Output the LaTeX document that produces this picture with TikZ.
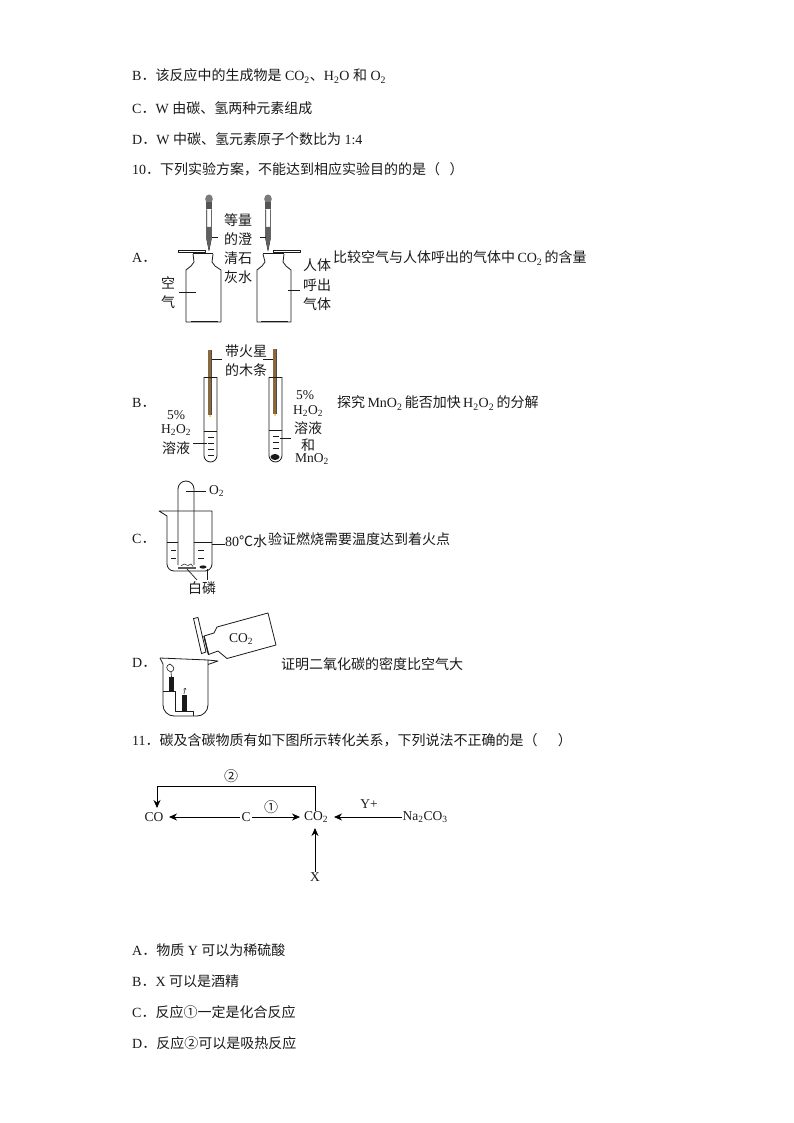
\documentclass[tikz,border=0pt]{standalone}
\usepackage{fontspec}
\setmainfont{Liberation Serif}
\newfontfamily\cjk{Noto Sans CJK SC}
\newcommand{\cj}[1]{{\cjk #1}}
\newcommand{\sbs}[1]{\textsubscript{#1}}
\definecolor{ink}{HTML}{1A1A1A}
\definecolor{splint}{HTML}{8A6A3C}
\definecolor{rubber}{HTML}{7A7A7A}
\usetikzlibrary{arrows.meta}
\tikzset{
 linetxt/.style={anchor=west,inner sep=0pt,font=\fontsize{14}{14}\selectfont,text=ink},
 lab/.style={anchor=center,inner sep=0pt,font=\fontsize{14}{14}\selectfont,text=ink},
 chem/.style={anchor=center,inner sep=0pt,font=\fontsize{13.5}{13.5}\selectfont,text=ink},
 glass/.style={draw=ink,line width=0.8pt,line join=round},
 tick/.style={draw=ink,line width=0.7pt},
 conn/.style={draw=black,line width=0.8pt},
 arr/.style={conn,-{Stealth[length=8pt,width=7pt]}},
}
\newcommand{\dropper}[1]{%
 \begin{scope}[shift={(#1,0)}]
  \fill[rubber] (0,199) ellipse (3.8 and 4.5);
  \fill[rubber!70!black] (-2.6,202) rectangle (2.6,209.5);
  \draw[glass,line width=0.6pt] (-2.3,209.5) -- (-2.3,239) -- (0,250.5) -- (2.3,239) -- (2.3,209.5);
  \fill[gray!75!black] (-2.3,227) -- (-2.3,239) -- (0,250.5) -- (2.3,239) -- (2.3,227) -- cycle;
 \end{scope}}
\newcommand{\splintat}[3]{\fill[splint] (#1-2,#2) rectangle (#1+2,#3);
 \draw[black!70,line width=0.5pt] (#1+1.3,#2) -- (#1+1.3,#3);}
\begin{document}
\begin{tikzpicture}[x=1pt,y=-1pt]
\useasboundingbox[fill=white] (0,0) rectangle (794,1123);
% text lines
\node[linetxt] (t1) at (132,76) {B\cj{．该反应中的生成物是} CO\sbs{2}\cj{、}H\sbs{2}O \cj{和} O\sbs{2}};
\node[linetxt] (t2) at (132,108) {C\cj{．}W \cj{由碳、氢两种元素组成}};
\node[linetxt] (t3) at (132,139) {D\cj{．}W \cj{中碳、氢元素原子个数比为} 1:4};
\node[linetxt] (t4) at (132,169) {10\cj{．下列实验方案，不能达到相应实验目的的是（\ \ \ ）}};
\node[linetxt] (oA) at (132,258) {A\cj{．}};
\node[linetxt] (oB) at (132,403) {B\cj{．}};
\node[linetxt] (oC) at (132,539) {C\cj{．}};
\node[linetxt] (oD) at (132,663) {D\cj{．}};
\node[linetxt] (dA) at (333,258) {\cj{比较空气与人体呼出的气体中}\,CO\sbs{2}\,\cj{的含量}};
\node[linetxt] (dB) at (337,403) {\cj{探究}\,MnO\sbs{2}\,\cj{能否加快}\,H\sbs{2}O\sbs{2}\,\cj{的分解}};
\node[linetxt] (dC) at (268,539) {\cj{验证燃烧需要温度达到着火点}};
\node[linetxt] (dD) at (281,664) {\cj{证明二氧化碳的密度比空气大}};
\node[linetxt] (t11) at (132,740) {11\cj{．碳及含碳物质有如下图所示转化关系，下列说法不正确的是（\quad\ \ ）}};
\node[linetxt] (a1) at (132,950) {A\cj{．物质} Y \cj{可以为稀硫酸}};
\node[linetxt] (a2) at (132,981) {B\cj{．}X \cj{可以是酒精}};
\node[linetxt] (a3) at (132,1012) {C\cj{．反应①一定是化合反应}};
\node[linetxt] (a4) at (132,1043) {D\cj{．反应②可以是吸热反应}};
% === A ===
\dropper{209}\dropper{268}
\fill[ink] (193,252.5) rectangle (213,254);
\fill[ink] (263,252.5) rectangle (284,254);
\draw[glass] (193,254) -- (194,262) -- (191,266) -- (186,270) -- (186,322) -- (221,322) -- (221,270) -- (215,266) -- (212,262) -- (213,254);
\draw[glass] (263,254) -- (265,262) -- (262,266) -- (257,270) -- (257,322) -- (291,322) -- (291,270) -- (286,266) -- (283,262) -- (284,254);
\fill[ink] (191,320.5) rectangle (218,322);
\fill[ink] (261,320.5) rectangle (288,322);
\draw[glass,fill=white] (178,250.5) rectangle (205,252.5);
\draw[glass,fill=white] (273,250.5) rectangle (300,252.5);
\draw[tick] (212,237) -- (218,237);
\draw[tick] (260,237) -- (266,237);
\draw[tick] (179,292) -- (196,292);
\draw[tick] (288,290) -- (300,290);
\node[lab] (a11) at (238,220) {\cj{等量}};
\node[lab] (a12) at (238,239) {\cj{的澄}};
\node[lab] (a13) at (238,258) {\cj{清石}};
\node[lab] (a14) at (238,277) {\cj{灰水}};
\node[lab] (a21) at (168,283) {\cj{空}};
\node[lab] (a22) at (168,302) {\cj{气}};
\node[lab] (a31) at (317,265) {\cj{人体}};
\node[lab] (a32) at (317,285) {\cj{呼出}};
\node[lab] (a33) at (317,304) {\cj{气体}};
% === B ===
\splintat{210}{350}{415}
\splintat{275}{349}{414}
\fill[orange!60!yellow] (210,416) circle (1);
\fill[orange!60!yellow] (275,415) circle (1);
\draw[glass] (204,377) -- (217,377);
\draw[glass] (204,377) -- (204,455.5) arc[start angle=180,end angle=0,radius=6.5] -- (217,377);
\draw[glass] (269,377) -- (282,377);
\draw[glass] (269,377) -- (269,455.5) arc[start angle=180,end angle=0,radius=6.5] -- (282,377);
\draw[ink,line width=0.7pt] (204,431) -- (217,431);
\draw[ink,line width=0.7pt] (269,430) -- (282,430);
\foreach \yy in {437,443,449,455} {\draw[ink,line width=0.6pt] (207.5,\yy) -- (213.5,\yy);}
\foreach \yy in {436,442,448} {\draw[ink,line width=0.6pt] (272.5,\yy) -- (278.5,\yy);}
\fill[ink] (275,457) ellipse (4.5 and 3);
\draw[tick] (212,359) -- (222,359);
\draw[tick] (263,359) -- (273,359);
\draw[tick] (193,443) -- (207,443);
\draw[tick] (280,438) -- (291,438);
\node[lab] (b1) at (246,351) {\cj{带火星}};
\node[lab] (b2) at (246,370) {\cj{的木条}};
\node[chem] (b3) at (176,415) {5\%};
\node[chem] (b4) at (176,430) {H\sbs{2}O\sbs{2}};
\node[lab] (b5) at (176,448) {\cj{溶液}};
\node[chem] (b6) at (305,395) {5\%};
\node[chem] (b7) at (308,411) {H\sbs{2}O\sbs{2}};
\node[lab] (b8) at (308,428) {\cj{溶液}};
\node[lab] (b9) at (308,445) {\cj{和}};
\node[chem] (b10) at (312,459) {MnO\sbs{2}};
% === C ===
\draw[glass] (159,511) -- (167,516) -- (167,564) arc[start angle=180,end angle=90,radius=7] -- (205,571) arc[start angle=90,end angle=0,radius=7] -- (212,511) -- cycle;
\draw[glass] (178,565) -- (178,489) arc[start angle=180,end angle=360,radius=8] -- (194,565);
\draw[glass,line width=0.7pt] (167,542) -- (178,542) (194,542) -- (212,542);
\foreach \xa/\xb in {171/176,198/204} {\foreach \yy in {550,558} {\draw[ink,line width=0.6pt] (\xa,\yy) -- (\xb,\yy);}}
\fill[gray!70!black] (178,566.5) rectangle (196,569);
\draw[ink,line width=0.5pt] (181,566) -- (184,564) -- (188,565.5) -- (191,564) -- (193,566.5);
\fill[ink] (203,567) ellipse (3.5 and 1.6);
\draw[tick] (186,491) -- (206,491);
\draw[tick] (212,544) -- (225,544);
\draw[tick] (187,569) -- (197,580);
\draw[tick] (207,569) -- (207,580);
\node[chem,anchor=west] (c1) at (209,491) {O\sbs{2}};
\node[linetxt] (c2) at (225,541.5) {80\cj{℃水}};
\node[lab] (c3) at (202,588) {\cj{白磷}};
% === D ===
\draw[glass,fill=white] (217,627) -- (268,613) -- (276,645) -- (227,658.5) -- (218,651) -- (208.5,654.5) -- (204,636) -- (214,633) -- cycle;
\draw[glass,fill=white] (193.5,618.5) -- (198,617.5) -- (206,652) -- (201.5,653.5) -- cycle;
\draw[ink,line width=1.2pt] (204,636) -- (208.5,654.5);
\draw[glass] (160,658) -- (163,664) -- (163,705) arc[start angle=180,end angle=90,radius=11] -- (197,716) arc[start angle=90,end angle=0,radius=11] -- (208,660) -- (218,661) -- (208,664.5);
\draw[glass] (160,658) -- (208,660);
\draw[glass,line width=1pt] (163,691) -- (175,691) -- (175,711.5) -- (193,711.5) -- (193,715.5);
\fill[ink] (169,677) rectangle (174,691);
\fill[ink] (182,695) rectangle (187,711);
\draw[ink,line width=0.6pt] (171.5,677) -- (171,672) (171,672) .. controls (165,670) and (166,665) .. (170,664) .. controls (175,667) and (175,670) .. (171,672);
\draw[ink,line width=0.6pt] (184,694) .. controls (186,692) and (183,691) .. (184,689) .. controls (185,688) and (186,688) .. (186,690);
\node[chem] (d1) at (241,639) {CO\sbs{2}};
% === Scheme ===
\node[chem] (CO) at (154,817) {CO};
\node[chem] (C) at (246,817) {C};
\node[chem] (CO2) at (316,817) {CO\sbs{2}};
\node[chem] (NA) at (425,817) {Na\sbs{2}CO\sbs{3}};
\node[chem] (X) at (315,877) {X};
\node[lab] (n2) at (231,776) {\cj{②}};
\node[lab] (n1) at (271,807) {\cj{①}};
\node[chem] (Yp) at (369,804) {Y+};
\coordinate (cr) at (315,786);
\coordinate (cl) at (157,786);
\coordinate (tipCO) at (169,817);
\coordinate (tipA) at (300,817);
\coordinate (tipN) at (334,817);
\coordinate (tipX) at (315,828);
\coordinate (sX) at (315,872);
\coordinate (sT) at (315,811);
\coordinate (tipT) at (157,808);
\draw[arr,shorten <=1.5pt] (C.west) -- (tipCO);
\draw[arr,shorten <=1.5pt] (C.east) -- (tipA);
\draw[arr] (NA.west) -- (tipN);
\draw[arr] (sX) -- (tipX);
\draw[arr] (sT) -- (cr) -- (cl) -- (tipT);
\end{tikzpicture}
\end{document}
